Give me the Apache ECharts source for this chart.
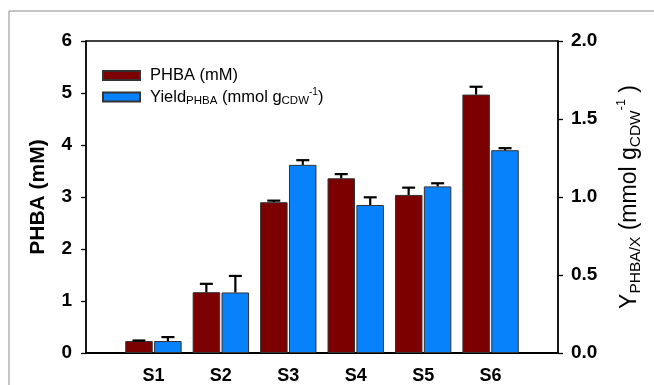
<!DOCTYPE html>
<html>
<head>
<meta charset="utf-8">
<script src="https://cdn.jsdelivr.net/npm/echarts@6/dist/echarts.min.js"></script>
<style>
  html, body { margin: 0; padding: 0; background: #fff; }
  #chart { width: 654px; height: 385px; }
</style>
</head>
<body>
<div id="chart"></div>
<script>
// 样本
const categories = ['S1', 'S2', 'S3', 'S4', 'S5', 'S6']
// PHBA (mM), 左轴
const phbaValues = [0.23, 1.17, 2.90, 3.36, 3.04, 4.97]
const phbaErrors = [0.01, 0.16, 0.03, 0.08, 0.14, 0.15]
// Yield (mmol gCDW-1), 右轴
const yieldValues = [0.077, 0.388, 1.206, 0.949, 1.068, 1.300]
const yieldErrors = [0.025, 0.106, 0.030, 0.049, 0.020, 0.013]
const leftTicks = [0, 1, 2, 3, 4, 5, 6]
const rightTicks = [0, 0.5, 1.0, 1.5, 2.0]

const FONT = '"Liberation Sans", Arial, sans-serif'
const BAR_W = 27.5
const OFFSET = 14.5

// 两端留空，让组间距和原图一致
const axisData = [''].concat(categories, [''])
const pad = arr => [null].concat(arr, [null])

// 误差线（只画上半部分）
function errorBar (dx) {
  return function (params, api) {
    const i = api.value(0)
    const v = api.value(1)
    const e = api.value(2)
    const p0 = api.coord([i, v])
    const p1 = api.coord([i, v + e])
    const x = p0[0] + dx
    const style = { stroke: '#000', lineWidth: 2.2 }
    return {
      type: 'group',
      children: [
        { type: 'line', shape: { x1: x, y1: p0[1], x2: x, y2: p1[1] }, style: style },
        { type: 'line', shape: { x1: x - 6.5, y1: p1[1], x2: x + 6.5, y2: p1[1] }, style: style }
      ]
    }
  }
}

const chart = echarts.init(document.getElementById('chart'))
chart.setOption({
  animation: false,
  textStyle: { fontFamily: FONT, color: '#000' },
  graphic: [{
    type: 'rect',
    shape: { x: 9, y: 11, width: 700, height: 420 },
    style: { fill: 'none', stroke: '#8a8a8a', lineWidth: 1 },
    silent: true
  }],
  grid: {
    left: 86, right: 96, top: 41, bottom: 31,
    show: true, borderColor: '#000', borderWidth: 1.3, backgroundColor: 'transparent'
  },
  legend: {
    orient: 'vertical',
    left: 97, top: 62,
    icon: 'rect',
    itemWidth: 37, itemHeight: 9, itemGap: 3,
    data: ['PHBA', 'Yield'],
    formatter: function (name) {
      if (name === 'PHBA') return '{m|PHBA (mM)}'
      return '{m|Yield}{s|PHBA}{m| (mmol g}{s|CDW}{p|-1}{m|)}'
    },
    textStyle: {
      fontFamily: FONT,
      padding: [0, 0, 0, 5],
      rich: {
        m: { fontSize: 16.5, fontFamily: FONT, color: '#000', lineHeight: 20, verticalAlign: 'middle' },
        s: { fontSize: 11.5, fontFamily: FONT, color: '#000', lineHeight: 20, verticalAlign: 'bottom' },
        p: { fontSize: 10, fontFamily: FONT, color: '#000', lineHeight: 20, verticalAlign: 'top' }
      }
    }
  },
  xAxis: {
    type: 'category',
    data: axisData,
    boundaryGap: false,
    axisLine: { lineStyle: { color: '#000', width: 2.2 } },
    axisTick: { show: false },
    axisLabel: { fontSize: 18, fontWeight: 'bold', fontFamily: FONT, color: '#000', margin: 14 },
    splitLine: { show: false }
  },
  yAxis: [
    {
      type: 'value',
      min: 0, max: 6, interval: 1,
      name: 'PHBA (mM)',
      nameLocation: 'middle',
      nameRotate: 90,
      nameGap: 37,
      nameTextStyle: { fontSize: 21, fontWeight: 'bold', fontFamily: FONT, color: '#000' },
      axisLine: { show: true, lineStyle: { color: '#000', width: 1.5 } },
      axisTick: { show: true, length: 5, lineStyle: { color: '#000', width: 1.3 } },
      axisLabel: {
        fontSize: 19, fontWeight: 'bold', fontFamily: FONT, color: '#000', margin: 14,
        formatter: v => leftTicks.indexOf(v) > -1 ? String(v) : ''
      },
      splitLine: { show: false }
    },
    {
      type: 'value',
      min: 0, max: 2, interval: 0.5,
      position: 'right',
      name: '{m|Y}{s|PHBA/X}{m| (mmol g}{s|CDW}{p|-1}{m| )}',
      nameLocation: 'middle',
      nameRotate: 90,
      nameGap: 57,
      nameTextStyle: {
        fontFamily: FONT,
        rich: {
          m: { fontSize: 23, fontFamily: FONT, color: '#000', lineHeight: 29, verticalAlign: 'middle' },
          s: { fontSize: 15.5, fontFamily: FONT, color: '#000', lineHeight: 29, verticalAlign: 'bottom' },
          p: { fontSize: 12.5, fontFamily: FONT, color: '#000', lineHeight: 29, verticalAlign: 'top' }
        }
      },
      axisLine: { show: true, lineStyle: { color: '#000', width: 1.5 } },
      axisTick: { show: true, length: 5, lineStyle: { color: '#000', width: 1.3 } },
      axisLabel: {
        fontSize: 19, fontWeight: 'bold', fontFamily: FONT, color: '#000', margin: 13,
        formatter: v => rightTicks.indexOf(v) > -1 ? v.toFixed(1) : ''
      },
      splitLine: { show: false }
    }
  ],
  series: [
    {
      name: 'PHBA',
      type: 'bar',
      yAxisIndex: 0,
      barWidth: BAR_W,
      barGap: '5%',
      itemStyle: { color: '#7d0000', borderColor: '#333', borderWidth: 1 },
      data: pad(phbaValues),
      z: 2
    },
    {
      name: 'Yield',
      type: 'bar',
      yAxisIndex: 1,
      barWidth: BAR_W,
      barGap: '5%',
      itemStyle: { color: '#0882fb', borderColor: '#333', borderWidth: 1 },
      data: pad(yieldValues),
      z: 2
    },
    {
      name: 'PHBA err',
      type: 'custom',
      yAxisIndex: 0,
      renderItem: errorBar(-OFFSET),
      data: phbaValues.map((v, i) => [i + 1, v, phbaErrors[i]]),
      z: 3
    },
    {
      name: 'Yield err',
      type: 'custom',
      yAxisIndex: 1,
      renderItem: errorBar(OFFSET),
      data: yieldValues.map((v, i) => [i + 1, v, yieldErrors[i]]),
      z: 3
    }
  ]
})
</script>
</body>
</html>
